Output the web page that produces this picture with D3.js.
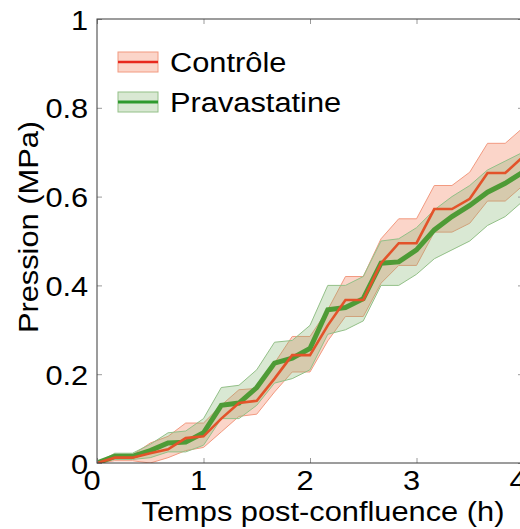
<!DOCTYPE html>
<html>
<head>
<meta charset="utf-8">
<script src="https://cdn.jsdelivr.net/npm/d3@7"></script>
<style>
  html, body { margin: 0; padding: 0; background: #fff; }
  svg { display: block; font-family: "Liberation Sans", Arial, sans-serif; }
</style>
</head>
<body>
<svg id="chart" width="520" height="529"></svg>
<script>
// Time after confluence (h), sampled every 10 min
const timeH = [0, 0.167, 0.333, 0.5, 0.667, 0.833, 1, 1.167, 1.333, 1.5, 1.667, 1.833, 2,
               2.167, 2.333, 2.5, 2.667, 2.833, 3, 3.167, 3.333, 3.5, 3.667, 3.833, 4];

// Contrôle: mean pressure and band limits (MPa)
const ctrlMean  = [0, 0.012, 0.012, 0.022, 0.031, 0.056, 0.06, 0.10, 0.135, 0.14, 0.19, 0.243, 0.243,
                   0.31, 0.367, 0.367, 0.45, 0.495, 0.495, 0.572, 0.572, 0.595, 0.653, 0.653, 0.69];
const ctrlUpper = [0, 0.018, 0.018, 0.045, 0.06, 0.09, 0.09, 0.13, 0.165, 0.168, 0.225, 0.285, 0.285,
                   0.345, 0.42, 0.42, 0.505, 0.55, 0.55, 0.625, 0.625, 0.655, 0.72, 0.72, 0.755];
const ctrlLower = [0, 0.005, 0.005, 0, 0.012, 0.028, 0.035, 0.07, 0.105, 0.11, 0.16, 0.205, 0.205,
                   0.275, 0.33, 0.33, 0.405, 0.445, 0.445, 0.52, 0.52, 0.54, 0.59, 0.59, 0.625];

// Pravastatine: mean pressure and band limits (MPa)
const pravaMean  = [0, 0.015, 0.015, 0.028, 0.045, 0.047, 0.068, 0.13, 0.135, 0.17, 0.225, 0.236, 0.258,
                    0.345, 0.35, 0.37, 0.45, 0.453, 0.48, 0.525, 0.555, 0.58, 0.61, 0.63, 0.655];
const pravaUpper = [0, 0.022, 0.022, 0.042, 0.068, 0.072, 0.1, 0.17, 0.175, 0.21, 0.272, 0.276, 0.31,
                    0.4, 0.4, 0.42, 0.5, 0.505, 0.53, 0.57, 0.6, 0.625, 0.66, 0.68, 0.7];
const pravaLower = [0, 0.008, 0.008, 0.012, 0.025, 0.025, 0.04, 0.1, 0.1, 0.13, 0.18, 0.19, 0.21,
                    0.29, 0.3, 0.32, 0.4, 0.4, 0.425, 0.46, 0.48, 0.5, 0.535, 0.555, 0.59];

const xTickValues = [0, 1, 2, 3, 4];
const xTickLabels = ["0", "1", "2", "3", "4"];
const yTickValues = [0, 0.2, 0.4, 0.6, 0.8, 1];
const yTickLabels = ["0", "0.2", "0.4", "0.6", "0.8", "1"];

const seriesNames = ["Contrôle", "Pravastatine"];

const svg = d3.select("#chart");
const plotLeft = 97, plotRight = 523, plotTop = 19, plotBottom = 463;
const fontPx = 28, stretch = 1.1;

const x = d3.scaleLinear().domain([0, 4]).range([plotLeft, plotRight]);
const y = d3.scaleLinear().domain([0, 1]).range([plotBottom, plotTop]);

const styles = [
  { fill: "rgb(242,115,75)", fillOpacity: 0.3, edge: "#f29a80", line: "#e3532a", width: 2.6, legendLine: "#e8281e" },
  { fill: "rgb(128,178,108)", fillOpacity: 0.3, edge: "#93c088", line: "#4e9b36", width: 5, legendLine: "#2e9a2e" }
];

const bands = [
  { mean: ctrlMean, upper: ctrlUpper, lower: ctrlLower },
  { mean: pravaMean, upper: pravaUpper, lower: pravaLower }
];

svg.append("defs").append("clipPath").attr("id", "plotclip")
  .append("rect").attr("x", plotLeft).attr("y", plotTop)
  .attr("width", plotRight - plotLeft).attr("height", plotBottom - plotTop);

const plot = svg.append("g").attr("clip-path", "url(#plotclip)");

const area = (b) => d3.area()
  .x((d, i) => x(timeH[i]))
  .y0((d, i) => y(b.lower[i]))
  .y1((d, i) => y(b.upper[i]));

const line = d3.line().x((d, i) => x(timeH[i])).y(d => y(d));

// shaded bands
bands.forEach((b, s) => {
  plot.append("path")
    .datum(b.mean)
    .attr("d", area(b))
    .attr("fill", styles[s].fill)
    .attr("fill-opacity", styles[s].fillOpacity)
    .attr("stroke", styles[s].edge)
    .attr("stroke-width", 1);
});

// mean curves: Pravastatine underneath, Contrôle on top
[1, 0].forEach(s => {
  plot.append("path")
    .datum(bands[s].mean)
    .attr("d", line)
    .attr("fill", "none")
    .attr("stroke", styles[s].line)
    .attr("stroke-width", styles[s].width)
    .attr("stroke-linejoin", "miter");
});

// axes with inward ticks
const tickColor = "#9a9a9a";
const xAxis = d3.axisBottom(x).tickValues(xTickValues).tickSize(-5).tickPadding(10)
  .tickFormat((d, i) => xTickLabels[i]);
const xAxisTop = d3.axisTop(x).tickValues(xTickValues).tickSize(-5).tickFormat("");
const yAxis = d3.axisLeft(y).tickValues(yTickValues).tickSize(-5).tickPadding(9)
  .tickFormat((d, i) => yTickLabels[i]);
const yAxisRight = d3.axisRight(y).tickValues(yTickValues).tickSize(-5).tickFormat("");

function styleAxis(g) {
  g.select(".domain").remove();
  g.selectAll(".tick line").attr("stroke", tickColor).attr("stroke-width", 1);
  g.selectAll(".tick text")
    .attr("fill", "#000")
    .style("font-size", fontPx + "px")
    .style("font-family", "Liberation Sans, Arial, sans-serif");
}

const gx = svg.append("g").attr("transform", `translate(0,${plotBottom})`).call(xAxis).call(styleAxis);
gx.selectAll(".tick text")
  .attr("dy", "0.71em").attr("y", 7).attr("x", -5)
  .attr("transform", `scale(${stretch},1)`);
svg.append("g").attr("transform", `translate(0,${plotTop})`).call(xAxisTop).call(styleAxis);
const gy = svg.append("g").attr("transform", `translate(${plotLeft},0)`).call(yAxis).call(styleAxis);
gy.selectAll(".tick text").attr("dy", "0.36em").attr("x", -8).attr("transform", `scale(${stretch},1)`);
svg.append("g").attr("transform", `translate(${plotRight},0)`).call(yAxisRight).call(styleAxis);

// frame
svg.append("rect")
  .attr("x", plotLeft).attr("y", plotTop)
  .attr("width", plotRight - plotLeft).attr("height", plotBottom - plotTop)
  .attr("fill", "none").attr("stroke", "#3a3a3a").attr("stroke-width", 1);

// axis titles
svg.append("text")
  .attr("transform", `translate(323,521) scale(${stretch},1)`)
  .attr("text-anchor", "middle")
  .style("font-size", fontPx + "px")
  .attr("fill", "#000")
  .text("Temps post-confluence (h)");

svg.append("text")
  .attr("transform", `translate(38,227) rotate(-90) scale(${stretch},1)`)
  .attr("text-anchor", "middle")
  .style("font-size", fontPx + "px")
  .attr("fill", "#000")
  .text("Pression (MPa)");

// legend
const legend = svg.append("g");
seriesNames.forEach((name, s) => {
  const cy = 62 + s * 40;
  legend.append("rect")
    .attr("x", 118).attr("y", cy - 10).attr("width", 40).attr("height", 20)
    .attr("fill", styles[s].fill).attr("fill-opacity", styles[s].fillOpacity)
    .attr("stroke", styles[s].edge).attr("stroke-width", 1);
  legend.append("line")
    .attr("x1", 118).attr("x2", 158).attr("y1", cy).attr("y2", cy)
    .attr("stroke", styles[s].legendLine).attr("stroke-width", s === 0 ? 2.5 : 3);
  legend.append("text")
    .attr("transform", `translate(170,${cy + 10}) scale(${stretch},1)`)
    .style("font-size", fontPx + "px")
    .attr("fill", "#000")
    .text(name);
});
</script>
</body>
</html>
